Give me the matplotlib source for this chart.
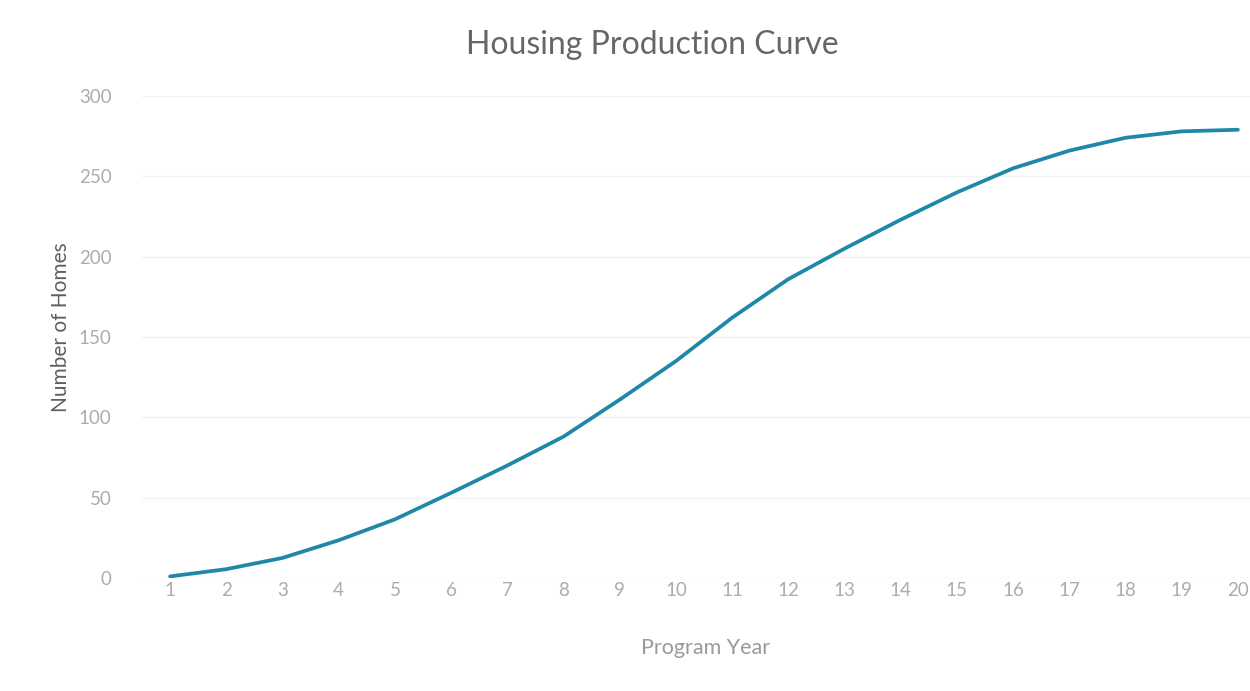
import matplotlib.pyplot as plt

years = list(range(1, 21))
homes = [1, 5.5, 12.5, 23.5, 36.5, 53, 70, 88, 111, 135,
         162, 186, 205, 223, 240, 255, 266, 274, 278, 279]
yticks = [0, 50, 100, 150, 200, 250, 300]

plt.rcParams['font.family'] = ['Lato', 'DejaVu Sans']

fig = plt.figure(figsize=(12.5, 6.91), dpi=100)
ax = fig.add_axes([142 / 1250, 1 - 578 / 691, 1124 / 1250, (578 - 96) / 691])

ax.plot(years, homes, color='#1f88a8', linewidth=2.7, solid_capstyle='round')

ax.set_xlim(0.5, 20.5)
ax.set_ylim(0, 300)
ax.set_xticks(years)
ax.set_yticks(yticks)
ax.tick_params(length=0, labelsize=13.5, labelcolor='#acacac')
ax.tick_params(axis='y', pad=22)
ax.tick_params(axis='x', pad=3)

ax.grid(True, axis='y', color='#f3f3f3', linewidth=1.0)
for s in ax.spines.values():
    s.set_visible(False)

ax.set_ylabel('Number of Homes', fontsize=15, color='#5f5f5f')
ax.yaxis.set_label_coords(-0.063, 0.52)
fig.text(706 / 1250, 1 - 648 / 691, 'Program Year', ha='center', va='center',
         fontsize=15.5, color='#9a9a9a')
fig.text(652 / 1250, 1 - 45 / 691, 'Housing Production Curve', ha='center', va='center',
         fontsize=23, color='#666666')

fig.savefig('out.png', dpi=100)
plt.close(fig)
